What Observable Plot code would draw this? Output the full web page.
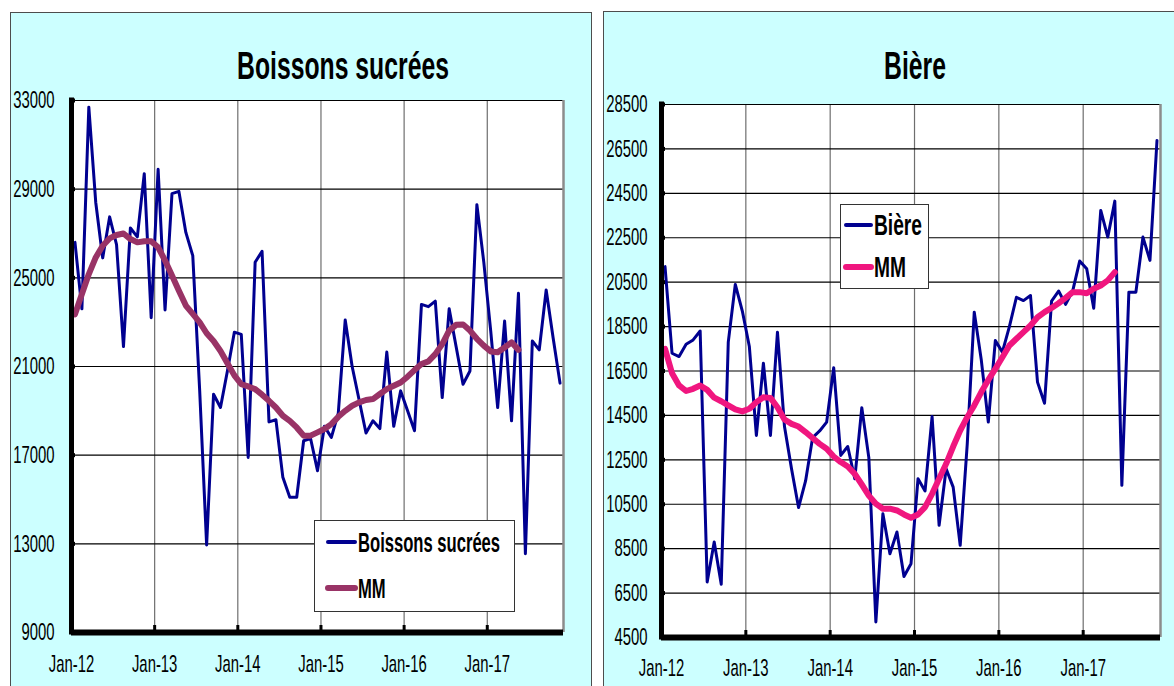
<!DOCTYPE html>
<html><head><meta charset="utf-8">
<script src="https://cdn.jsdelivr.net/npm/d3@7"></script>
<script src="https://cdn.jsdelivr.net/npm/@observablehq/plot@0.6"></script>
<style>
html,body{margin:0;padding:0;background:#fff;overflow:hidden;}
#root{position:relative;width:1174px;height:686px;overflow:hidden;font-family:"Liberation Sans",Arial,Helvetica,sans-serif;}
.panel{position:absolute;background:#CCFFFF;border:1px solid #4d4d4d;}
.chart{position:absolute;top:0;}
#overlay{position:absolute;left:0;top:0;}
</style></head><body><div id="root">
<div class="panel" style="left:10px;top:12px;width:580px;height:700px"></div>
<div class="panel" style="left:603px;top:11px;width:600px;height:700px"></div>
<div id="c1" class="chart" style="left:0px"></div>
<div id="c2" class="chart" style="left:600px"></div>
<svg id="overlay" width="1174" height="686"></svg>
</div>
<script>
// ---------- data ----------
const xTickLabels = ["Jan-12","Jan-13","Jan-14","Jan-15","Jan-16","Jan-17"];
const sodaTitle = "Boissons sucrées";
const beerTitle = "Bière";
const maLabel = "MM";

// monthly values, Jan-12 .. Nov-17
const sodaValues = [26600,23600,32700,28400,25900,27750,26500,21900,27250,26850,29700,23200,
  29900,23550,28800,28900,27050,26000,19900,12950,19750,19150,20800,22550,
  22450,16900,25700,26200,18500,18600,16000,15100,15100,17650,17750,16300,
  18300,17800,18900,23100,21000,19500,18000,18550,18200,21650,18300,19900,
  19000,18100,23800,23700,23950,19600,23600,21900,20200,20800,28300,25700,
  22600,19150,23050,18550,24300,12550,22150,21750,24450,22300,20250];
// moving average, Jan-12 .. May-17
const sodaMM = [23350,24270,25170,25920,26450,26780,26930,27000,26750,26600,26650,26650,
  26380,25780,25100,24420,23750,23370,22990,22500,22150,21700,21150,20600,
  20200,20100,19980,19730,19450,19150,18780,18550,18250,17880,17880,18030,
  18180,18400,18730,19000,19230,19380,19490,19530,19760,19980,20130,20280,
  20540,20840,21110,21230,21560,22010,22620,22880,22900,22620,22250,21940,
  21680,21640,21860,22090,21750];

const beerValues = [21200,17300,17150,17700,17900,18300,7000,8800,6900,17800,20400,19200,
  17600,13600,16850,13600,18250,14000,12100,10350,11550,13500,13800,14200,
  16650,12700,13100,11650,14850,12600,5200,10070,8270,9250,7250,7820,
  11650,11100,14450,9550,12100,11270,8650,13200,19150,17000,14200,17870,
  17350,18500,19820,19670,19900,16000,15050,19650,20100,19500,20100,21450,
  21100,19330,23730,22530,24150,11350,20050,20050,22530,21480,26880];
const beerMM = [17500,16400,15850,15600,15700,15850,15650,15300,15140,14950,14770,14680,
  14800,15100,15320,15290,14870,14320,14120,14000,13750,13480,13220,13000,
  12650,12400,12200,11870,11390,10890,10520,10300,10300,10220,10040,9890,
  10040,10370,10970,11650,12320,13100,13820,14420,14950,15550,16100,16600,
  17120,17650,17950,18250,18550,18920,19150,19340,19550,19790,20050,20050,
  20000,20200,20350,20580,20950];

const sodaYTicks = [9000,13000,17000,21000,25000,29000,33000];
const beerYTicks = [4500,6500,8500,10500,12500,14500,16500,18500,20500,22500,24500,26500,28500];

// ---------- drawing ----------
const FONT = '"Liberation Sans", Arial, Helvetica, sans-serif';
const SX = 0.62; // condensed look of the original

function drawChart(el, {values, mm, yTicks, mmColor, width, height, ml, mr, mt, mb, yPad, xPad}) {
  const xDomain = [-0.5, values.length - 0.5];
  const yDomain = [yTicks[0], yTicks[yTicks.length - 1]];
  const xGrid = xTickLabels.map((_, k) => 12 * k - 0.5);
  const series = values.map((v, i) => ({i, v}));
  const avg = mm.map((v, i) => ({i, v}));
  const plotW = width - ml - mr, plotH = height - mt - mb;
  const ux = (xDomain[1] - xDomain[0]) / plotW;
  const uy = (yDomain[1] - yDomain[0]) / plotH;
  const chart = Plot.plot({
    width, height, marginLeft: ml, marginRight: mr, marginTop: mt, marginBottom: mb,
    x: {domain: xDomain, axis: null},
    y: {domain: yDomain, axis: null},
    style: {background: "transparent", fontFamily: FONT, color: "#000", overflow: "visible"},
    marks: [
      Plot.frame({fill: "white", stroke: "none"}),
      Plot.ruleX(xGrid.slice(1), {stroke: "#6e6e6e", strokeWidth: 1.2}),
      Plot.ruleY(yTicks, {stroke: "#000", strokeWidth: 1.1}),
      Plot.ruleX([xDomain[1]], {stroke: "#8c8c8c", strokeWidth: 2.5}),
      Plot.lineY(series, {x: "i", y: "v", stroke: "#000090", strokeWidth: 3, strokeLinejoin: "round"}),
      Plot.lineY(avg, {x: "i", y: "v", stroke: mmColor, strokeWidth: 6, strokeLinecap: "round", strokeLinejoin: "round"}),
      Plot.ruleY([yDomain[0]], {stroke: "#000", strokeWidth: 6}),
      Plot.ruleX([xDomain[0]], {stroke: "#000", strokeWidth: 5, strokeLinecap: "square"}),
      Plot.ruleY(yTicks, {x1: xDomain[0], x2: xDomain[0] + 4 * ux, stroke: "#000", strokeWidth: 4}),
      Plot.ruleX(xGrid.slice(1), {y1: yDomain[0], y2: yDomain[0] + 7 * uy, stroke: "#000", strokeWidth: 3}),
      Plot.axisY({ticks: yTicks, tickSize: 0, tickPadding: yPad, fontSize: 24, tickFormat: d => String(d), label: null}),
      Plot.axisX({ticks: xGrid, tickSize: 0, tickPadding: xPad, fontSize: 24, tickFormat: d => xTickLabels[xGrid.indexOf(d)], label: null})
    ]
  });
  chart.querySelectorAll("text").forEach(t => {
    const tr = t.getAttribute("transform") || "";
    t.setAttribute("transform", tr + ` scale(${SX},1)`);
    t.setAttribute("fill", "#000");
  });
  el.appendChild(chart);
}

drawChart(document.getElementById("c1"), {
  values: sodaValues, mm: sodaMM, yTicks: sodaYTicks, mmColor: "#993366",
  width: 590, height: 686, ml: 71, mr: 27, mt: 100, mb: 54, yPad: 17, xPad: 22
});
drawChart(document.getElementById("c2"), {
  values: beerValues, mm: beerMM, yTicks: beerYTicks, mmColor: "#F0167F",
  width: 574, height: 686, ml: 61, mr: 14, mt: 104, mb: 49, yPad: 14, xPad: 21
});

// titles and legends
const ov = d3.select("#overlay");
function txt(x, y, s, size, sx, anchor) {
  ov.append("text")
    .attr("transform", `translate(${x},${y}) scale(${sx},1)`)
    .attr("text-anchor", anchor || "start")
    .attr("font-size", size).attr("font-weight", "bold")
    .attr("font-family", FONT).attr("fill", "#000")
    .text(s);
}
txt(343, 79, sodaTitle, 39, 0.635, "middle");
txt(915, 79, beerTitle, 39, 0.635, "middle");

function legend(box, items, size, sx) {
  ov.append("rect").attr("x", box.x).attr("y", box.y).attr("width", box.w).attr("height", box.h)
    .attr("fill", "#fff").attr("stroke", "#333").attr("stroke-width", 1);
  items.forEach(it => {
    ov.append("line").attr("x1", it.x1).attr("x2", it.x2).attr("y1", it.y).attr("y2", it.y)
      .attr("stroke", it.color).attr("stroke-width", it.w).attr("stroke-linecap", "round");
    txt(it.x2 + 3, it.base, it.label, size, sx, "start");
  });
}
legend({x: 314.5, y: 520.5, w: 200, h: 91}, [
  {label: sodaTitle, color: "#000090", w: 4, x1: 328, x2: 355, y: 542, base: 552},
  {label: maLabel, color: "#993366", w: 6, x1: 328, x2: 355, y: 588, base: 598}
], 27, 0.615);
legend({x: 840.5, y: 204.5, w: 88, h: 84}, [
  {label: beerTitle, color: "#000090", w: 4, x1: 846, x2: 871, y: 225, base: 235},
  {label: maLabel, color: "#F0167F", w: 6, x1: 846, x2: 871, y: 267, base: 277}
], 30, 0.64);
</script>
</body></html>
